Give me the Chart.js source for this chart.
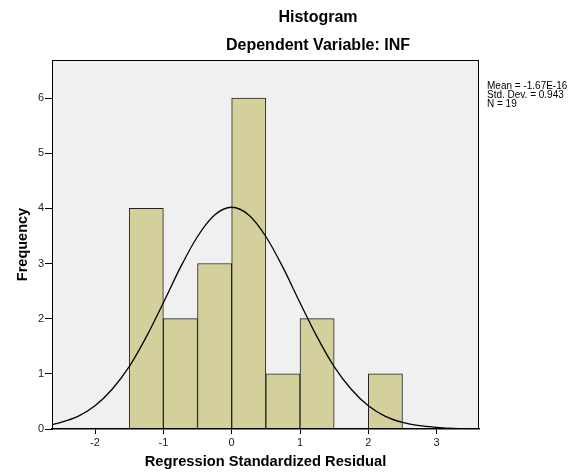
<!DOCTYPE html>
<html>
<head>
<meta charset="utf-8">
<script src="https://cdn.jsdelivr.net/npm/chart.js@4.4.1/dist/chart.umd.min.js"></script>
<style>
  body { margin: 0; background: #fff; }
  #wrap { position: relative; width: 584px; height: 472px; }
  #stats {
    position: absolute; left: 487px; top: 81px;
    font: 10px "Liberation Sans", Arial, sans-serif;
    line-height: 9px; color: #000; white-space: pre;
  }
</style>
</head>
<body>
<div id="wrap">
  <canvas id="chart"></canvas>
  <div id="stats"></div>
</div>
<script>
// histogram bins (width 0.5), centre of each bin + count
const binCenters = [-1.25, -0.75, -0.25, 0.25, 0.75, 1.25, 1.75, 2.25];
const binCounts = [4, 2, 3, 6, 1, 2, 0, 1];

// normal curve
const curveX = [-2.63, -2.5, -2.25, -2, -1.75, -1.5, -1.25, -1, -0.75, -0.5, -0.25, 0,
  0.25, 0.5, 0.75, 1, 1.25, 1.5, 1.75, 2, 2.25, 2.5, 2.75, 3, 3.25, 3.5, 3.62];
const curveY = [0.08, 0.12, 0.23, 0.42, 0.72, 1.13, 1.67, 2.29, 2.93, 3.49, 3.88, 4.02,
  3.88, 3.49, 2.93, 2.29, 1.67, 1.13, 0.72, 0.42, 0.23, 0.12, 0.06, 0.03, 0.01, 0.004, 0.002];

const xTicks = [-2, -1, 0, 1, 2, 3];
const yTicks = [0, 1, 2, 3, 4, 5, 6];
const statLines = ['Mean = -1.67E-16', 'Std. Dev. = 0.943', 'N = 19'];

document.getElementById('stats').textContent = statLines.join('\n');

const FONT = '"Liberation Sans", Arial, sans-serif';

// grey plot background + black frame
const plotFrame = {
  id: 'plotFrame',
  beforeDatasetsDraw(chart) {
    const { ctx, chartArea: a } = chart;
    ctx.save();
    ctx.fillStyle = '#f0f0f0';
    ctx.fillRect(a.left, a.top, a.right - a.left, a.bottom - a.top);
    ctx.restore();
  },
  afterDraw(chart) {
    const { ctx, chartArea: a } = chart;
    ctx.save();
    ctx.strokeStyle = '#000';
    ctx.lineWidth = 1;
    ctx.strokeRect(a.left + 0.5, a.top + 0.5, a.right - a.left - 1, a.bottom - a.top - 1);
    ctx.restore();
  }
};

const bars = binCenters.map((x, i) => ({ x, y: binCounts[i] })).filter(d => d.y > 0);
const curve = curveX.map((x, i) => ({ x, y: curveY[i] }));

new Chart(document.getElementById('chart'), {
  type: 'bar',
  data: {
    datasets: [
      {
        type: 'line', data: curve, order: 0,
        borderColor: '#000', borderWidth: 1.3, pointRadius: 0,
        cubicInterpolationMode: 'monotone', fill: false
      },
      {
        type: 'bar', data: bars, order: 1,
        backgroundColor: '#d4d09c', borderColor: '#222', borderWidth: 1,
        barPercentage: 1, categoryPercentage: 1, grouped: false
      }
    ]
  },
  options: {
    responsive: true,
    maintainAspectRatio: false,
    animation: false,
    // negative right padding pushes the title centre to the right, like SPSS
    layout: { padding: { left: 0, right: -52, top: 0, bottom: 0 } },
    plugins: {
      legend: { display: false },
      tooltip: { enabled: false },
      title: {
        display: true, text: 'Histogram', color: '#000',
        font: { family: FONT, size: 16, weight: 'bold' },
        padding: { top: 8.4, bottom: 8.8 }
      },
      subtitle: {
        display: true, text: 'Dependent Variable: INF', color: '#000',
        font: { family: FONT, size: 16, weight: 'bold' },
        padding: { top: 0, bottom: 4.4 }
      }
    },
    scales: {
      x: {
        type: 'linear', min: -2.63, max: 3.62, offset: false,
        afterBuildTicks: s => { s.ticks = xTicks.map(v => ({ value: v })); },
        afterFit: s => { s.height = 43; },
        ticks: { color: '#222', font: { family: FONT, size: 11 }, padding: 2 },
        grid: { offset: false, drawOnChartArea: false, drawTicks: true, tickLength: 5, color: '#000' },
        border: { display: true, color: '#000', width: 1.5 },
        title: {
          display: true, text: 'Regression Standardized Residual', color: '#000',
          font: { family: FONT, size: 14.7, weight: 'bold' },
          padding: { top: 0, bottom: 1 }
        }
      },
      y: {
        min: 0, max: 6.69,
        afterBuildTicks: s => { s.ticks = yTicks.map(v => ({ value: v })); },
        afterFit: s => { s.width = 52; },
        ticks: { color: '#222', font: { family: FONT, size: 11 }, padding: 1 },
        grid: { drawOnChartArea: false, drawTicks: true, tickLength: 7, color: '#000' },
        border: { display: true, color: '#000' },
        title: {
          display: true, text: 'Frequency', color: '#000',
          font: { family: FONT, size: 14.5, weight: 'bold' },
          padding: { top: 14.3, bottom: 0 }
        }
      },
      // empty column on the right that holds the stats text
      side: {
        type: 'linear', position: 'right', display: true,
        grid: { display: false }, ticks: { display: false }, border: { display: false },
        afterFit: s => { s.width = 157; }
      }
    }
  },
  plugins: [plotFrame]
});
</script>
</body>
</html>
